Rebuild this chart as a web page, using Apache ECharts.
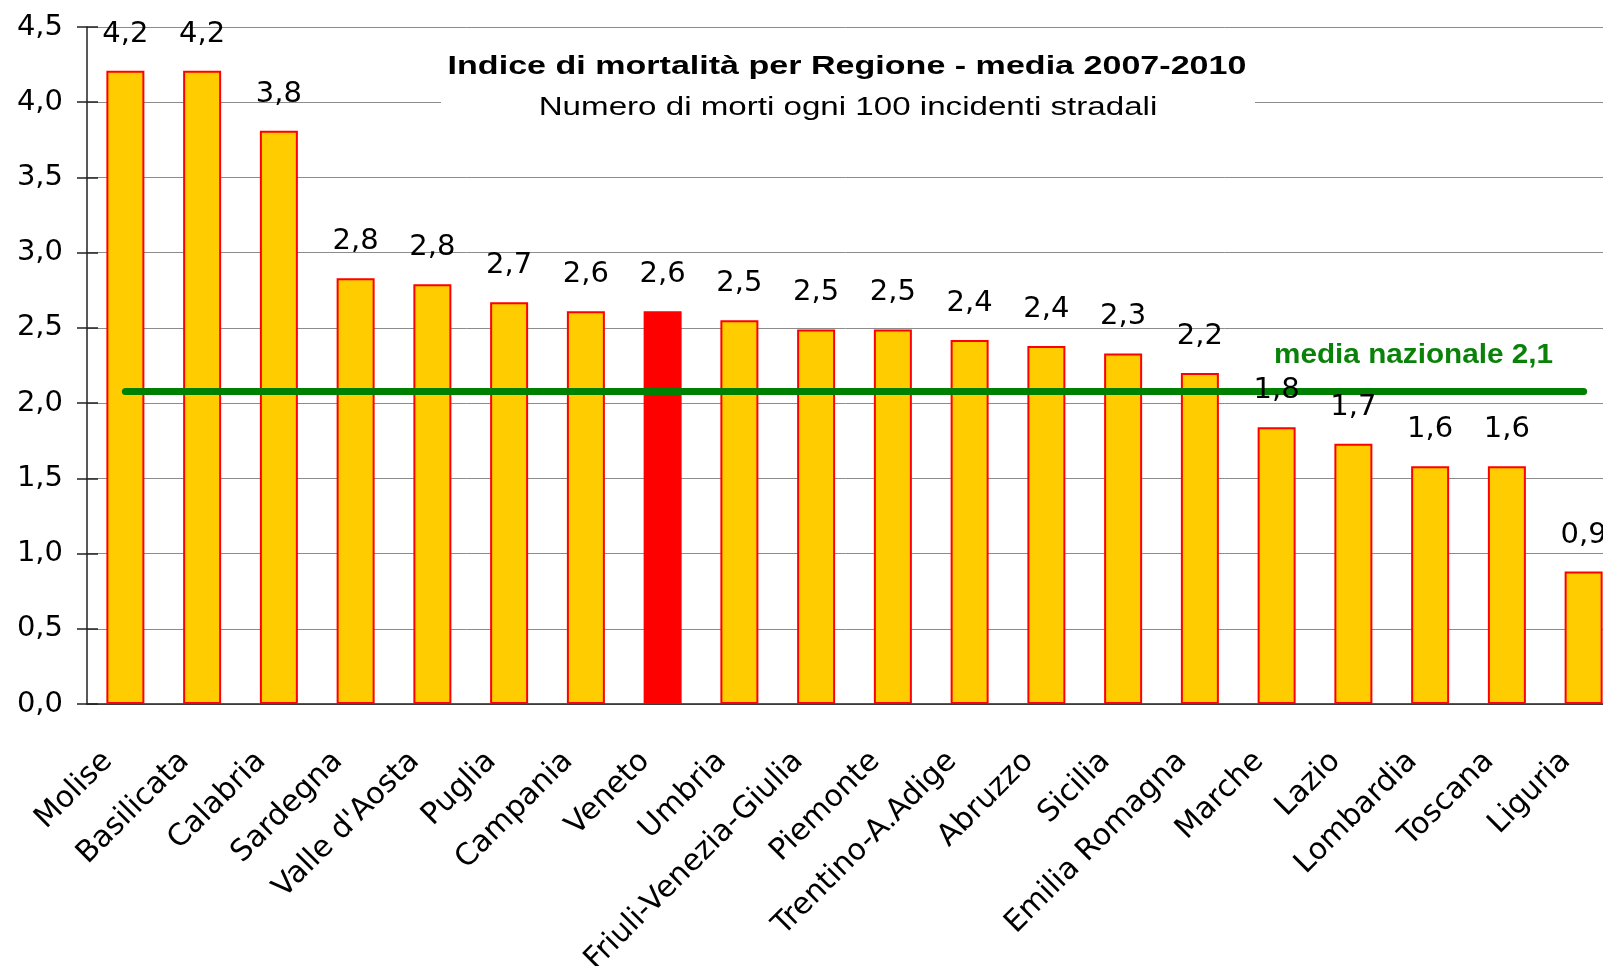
<!DOCTYPE html>
<html>
<head>
<meta charset="utf-8">
<title>Indice di mortalità per Regione</title>
<script src="https://cdn.jsdelivr.net/npm/echarts@6/dist/echarts.min.js"></script>
<style>
  html, body { margin: 0; padding: 0; background: #fff; }
  #chart { width: 1603px; height: 966px; }
</style>
</head>
<body>
<div id="chart"></div>
<script>
// values
const regions = ['Molise', 'Basilicata', 'Calabria', 'Sardegna', "Valle d'Aosta", 'Puglia', 'Campania',
  'Veneto', 'Umbria', 'Friuli-Venezia-Giulia', 'Piemonte', 'Trentino-A.Adige', 'Abruzzo', 'Sicilia',
  'Emilia Romagna', 'Marche', 'Lazio', 'Lombardia', 'Toscana', 'Liguria']
const mortality = [4.21, 4.21, 3.81, 2.83, 2.79, 2.67, 2.61, 2.61, 2.55, 2.49, 2.49, 2.42, 2.38, 2.33,
  2.20, 1.84, 1.73, 1.58, 1.58, 0.88]
const shownLabels = ['4,2', '4,2', '3,8', '2,8', '2,8', '2,7', '2,6', '2,6', '2,5', '2,5', '2,5', '2,4',
  '2,4', '2,3', '2,2', '1,8', '1,7', '1,6', '1,6', '0,9']
const nationalAvg = 2.08
const avgLabel = 'media nazionale 2,1'
const highlighted = 'Veneto'

const title = 'Indice di mortalità per Regione - media 2007-2010'
const subtitle = 'Numero di morti ogni 100 incidenti stradali'

const chart = echarts.init(document.getElementById('chart'))

const axisColor = '#222'
const labelFont = 'DejaVu Sans'

const barData = mortality.map((v, i) => regions[i] === highlighted
  ? { value: v, itemStyle: { color: '#ff0000', borderColor: '#ff0000' } }
  : v)

const yFmt = v => v.toFixed(1).replace('.', ',')

chart.setOption({
  backgroundColor: '#fff',
  animation: false,
  grid: { left: 87, right: -19, top: 27, bottom: 262, outerBoundsMode: 'none', containLabel: false },
  xAxis: [{
    type: 'category',
    data: regions,
    axisLine: { lineStyle: { color: axisColor, width: 1.5 } },
    axisTick: { length: 10, lineStyle: { color: axisColor, width: 1.5 } },
    axisLabel: {
      interval: 0, rotate: 45, margin: 35, padding: [0, 25, 0, 0],
      color: '#000', fontFamily: labelFont, fontSize: 30,
    },
  }, {
    // inner half of the cross ticks
    type: 'category',
    data: regions,
    position: 'bottom',
    axisLine: { show: false },
    axisTick: { inside: true, length: 10, lineStyle: { color: axisColor, width: 1.5 } },
    axisLabel: { show: false },
  }],
  yAxis: [{
    type: 'value',
    min: 0, max: 4.5, interval: 0.5,
    axisLine: { show: true, lineStyle: { color: axisColor, width: 1.5 } },
    axisTick: { show: true, length: 10, lineStyle: { color: axisColor, width: 1.5 } },
    axisLabel: { formatter: yFmt, margin: 24, color: '#000', fontFamily: labelFont, fontSize: 29 },
    splitLine: { lineStyle: { color: '#8c8c8c', width: 1 } },
  }, {
    type: 'value',
    position: 'left',
    min: 0, max: 4.5, interval: 0.5,
    axisLine: { show: false },
    axisTick: { show: true, inside: true, length: 11, lineStyle: { color: axisColor, width: 1.5 } },
    axisLabel: { show: false },
    splitLine: { show: false },
  }],
  series: [{
    type: 'bar',
    data: barData,
    barWidth: 38,
    z: 2,
    itemStyle: { color: '#ffcc00', borderColor: '#ff0000', borderWidth: 2 },
    markLine: {
      silent: true,
      symbol: ['none', 'none'],
      label: { show: false },
      lineStyle: { color: '#008000', width: 7, type: 'solid', cap: 'round' },
      data: [[
        { coord: [regions[0], nationalAvg] },
        { coord: [regions[regions.length - 1], nationalAvg] },
      ]],
    },
  }, {
    // value labels, kept above the average line
    type: 'bar',
    data: mortality,
    barWidth: 38,
    barGap: '-100%',
    z: 10,
    silent: true,
    itemStyle: { color: 'rgba(0,0,0,0)' },
    label: {
      show: true, position: 'top', distance: 22,
      formatter: p => shownLabels[p.dataIndex],
      color: '#000', fontFamily: labelFont, fontSize: 29,
    },
  }],
  graphic: [
    { type: 'rect', z: 1, shape: { x: 441, y: 36, width: 814, height: 100 }, style: { fill: '#fff' } },
    {
      type: 'text', z: 20, x: 847, y: 67, scaleX: 1.31,
      style: {
        text: title, fill: '#000', fontFamily: 'Liberation Sans', fontWeight: 'bold', fontSize: 26,
        align: 'center', verticalAlign: 'middle', textAlign: 'center', textVerticalAlign: 'middle',
      },
    },
    {
      type: 'text', z: 20, x: 848, y: 108, scaleX: 1.274,
      style: {
        text: subtitle, fill: '#000', fontFamily: 'Liberation Sans', fontSize: 26,
        align: 'center', verticalAlign: 'middle', textAlign: 'center', textVerticalAlign: 'middle',
      },
    },
    {
      type: 'text', z: 20, x: 1553, y: 356, scaleX: 1.1,
      style: {
        text: avgLabel, fill: '#0a820a', fontFamily: 'Liberation Sans', fontWeight: 'bold', fontSize: 27,
        align: 'right', verticalAlign: 'middle', textAlign: 'right', textVerticalAlign: 'middle',
      },
    },
  ],
})
</script>
</body>
</html>
